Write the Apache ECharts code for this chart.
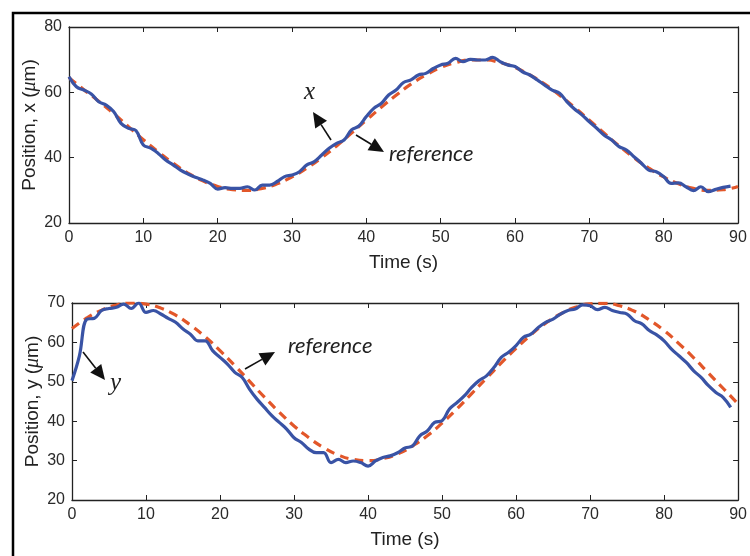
<!DOCTYPE html>
<html>
<head>
<meta charset="utf-8">
<script src="https://cdn.jsdelivr.net/npm/echarts@6/dist/echarts.min.js"></script>
<style>
  html, body { margin: 0; padding: 0; background: #fff; }
  #chart { width: 750px; height: 556px; }
</style>
</head>
<body>
<div id="chart"></div>
<script>
// measured x position, one sample per second (t = 0..89 s)
var xMeas = [
    64.8, 61.7, 60.7, 59.5, 57.1, 56.1, 54.1, 50.5, 49.0, 48.3,
    43.9, 42.9, 41.3, 39.3, 37.8, 36.2, 35.0, 34.0, 33.2, 32.1,
    30.4, 30.8, 30.6, 30.6, 31.1, 30.1, 31.6, 31.6, 32.7, 34.2,
    34.7, 35.7, 37.8, 38.8, 40.8, 42.9, 44.4, 45.4, 48.5, 49.7,
    52.6, 55.1, 56.6, 59.2, 60.7, 63.0, 63.8, 65.3, 65.8, 67.3,
    68.4, 68.9, 70.4, 69.4, 70.1, 69.9, 69.9, 70.7, 69.4, 68.4,
    67.9, 66.3, 65.3, 63.8, 62.2, 60.7, 59.7, 57.1, 54.9, 53.1,
    51.0, 49.0, 46.9, 45.4, 43.4, 42.3, 40.3, 38.3, 36.2, 35.7,
    34.2, 32.1, 32.3, 31.1, 29.9, 31.1, 29.6, 30.3, 30.9, 31.3
];
// reference x, one sample every 2 s (t = 0..90 s)
var xRef = [
    64.5, 60.8, 57.3, 53.5, 49.5, 45.5, 41.8, 38.3, 35.3, 32.9,
    31.2, 30.2, 30.0, 30.6, 32.0, 34.1, 36.8, 40.0, 43.6, 47.5,
    51.5, 55.4, 59.1, 62.5, 65.3, 67.6, 69.1, 69.9, 69.9, 69.1,
    67.6, 65.3, 62.5, 59.1, 55.4, 51.5, 47.5, 43.6, 40.0, 36.8,
    34.1, 32.0, 30.6, 30.0, 30.2, 31.2
];
// measured y position, one sample per second (t = 0..89 s)
var yMeas = [
    50.3, 56.6, 65.9, 66.1, 68.1, 68.6, 68.9, 69.7, 68.6, 70.0,
    67.6, 68.1, 67.2, 66.1, 65.1, 63.4, 62.1, 60.4, 60.4, 57.9,
    56.2, 54.5, 52.4, 51.1, 48.1, 45.6, 43.5, 41.4, 39.7, 38.0,
    35.8, 34.6, 32.9, 32.0, 32.0, 29.5, 30.3, 29.5, 29.9, 29.5,
    28.6, 29.9, 30.8, 31.2, 32.0, 33.2, 33.7, 36.3, 37.5, 39.7,
    40.1, 43.1, 44.7, 46.4, 48.6, 50.3, 51.5, 53.6, 56.2, 57.5,
    59.2, 61.3, 62.1, 63.8, 65.1, 65.9, 67.2, 68.1, 68.5, 69.5,
    69.3, 68.3, 68.9, 68.1, 67.6, 67.2, 65.5, 64.7, 63.0, 61.9,
    60.4, 58.3, 56.6, 54.9, 52.8, 51.1, 49.0, 47.3, 46.0, 43.5
];
// reference y, one sample every 2 s (t = 0..90 s)
var yRef = [
    63.5, 66.2, 68.2, 69.5, 70.0, 69.7, 68.7, 66.9, 64.4, 61.4,
    57.9, 54.1, 50.1, 46.1, 42.3, 38.8, 35.8, 33.3, 31.4, 30.3,
    30.0, 30.5, 31.7, 33.7, 36.3, 39.5, 43.1, 47.0, 50.9, 54.8,
    58.5, 61.9, 64.9, 67.2, 68.9, 69.8, 69.9, 69.3, 67.9, 65.7,
    63.0, 59.7, 56.1, 52.2, 48.3, 44.4
];
var measStep = 1;   // s
var refStep = 2;    // s

function pairs(arr, step) {
    return arr.map(function (v, i) { return [i * step, v]; });
}

var chart = echarts.init(document.getElementById('chart'));

var FONT = 'Liberation Sans';
var BLUE = '#3953a5';
var ORANGE = '#e2572a';

function xAx(grid, pos, withName) {
    return {
        type: 'value', gridIndex: grid, position: pos,
        min: 0, max: 90, interval: 10,
        name: withName ? 'Time (s)' : '',
        nameLocation: 'middle', nameGap: 30,
        nameTextStyle: { fontFamily: FONT, fontSize: 19, color: '#222' },
        axisLine: { onZero: false, lineStyle: { color: '#222', width: 1.3 } },
        axisTick: { inside: true, length: 5, lineStyle: { color: '#222' } },
        axisLabel: { show: withName, fontFamily: FONT, fontSize: 16, color: '#2a2a2a', margin: 7 },
        splitLine: { show: false }
    };
}

function yAx(grid, pos, min, max, step, name) {
    return {
        type: 'value', gridIndex: grid, position: pos,
        min: min, max: max, interval: step,
        name: name || '',
        nameLocation: 'middle', nameGap: 29, nameMoveOverlap: false,
        nameTextStyle: {
            fontFamily: FONT, fontSize: 19, color: '#222',
            rich: { m: { fontFamily: 'Liberation Serif', fontStyle: 'italic', fontSize: 20, color: '#222' } }
        },
        axisLine: { onZero: false, lineStyle: { color: '#222', width: 1.3 } },
        axisTick: { inside: true, length: 5, lineStyle: { color: '#222' } },
        axisLabel: { show: !!name, fontFamily: FONT, fontSize: 16, color: '#2a2a2a', margin: 7 },
        splitLine: { show: false }
    };
}

// arrow = shaft + filled head
function arrow(x1, y1, x2, y2) {
    var a = Math.atan2(y2 - y1, x2 - x1), L = 15, W = 7;
    var bx = x2 - L * Math.cos(a), by = y2 - L * Math.sin(a);
    return [
        { type: 'line', shape: { x1: x1, y1: y1, x2: bx, y2: by }, style: { stroke: '#111', lineWidth: 1.6 } },
        { type: 'polygon', shape: { points: [[x2, y2],
            [bx + W * Math.sin(a), by - W * Math.cos(a)],
            [bx - W * Math.sin(a), by + W * Math.cos(a)]] }, style: { fill: '#111' } }
    ];
}

var graphics = [
    { type: 'polyline', shape: { points: [[13, 556], [13, 13], [750, 13]] }, style: { stroke: '#000', lineWidth: 2.5, fill: null } },
    { type: 'text', left: 304, top: 80, style: { text: 'x', font: 'italic 25px "Liberation Serif"', fill: '#222' } },
    { type: 'text', left: 389, top: 143, style: { text: 'reference', font: 'italic 22px Lato', fill: '#222' } },
    { type: 'text', left: 288, top: 335, style: { text: 'reference', font: 'italic 22px Lato', fill: '#222' } },
    { type: 'text', left: 110, top: 371, style: { text: 'y', font: 'italic 25px "Liberation Serif"', fill: '#222' } }
]
    .concat(arrow(331, 140, 313, 112))
    .concat(arrow(356, 135, 384, 152))
    .concat(arrow(245, 369, 275, 352))
    .concat(arrow(83, 352, 105, 380));

var option = {
    animation: false,
    backgroundColor: '#fff',
    grid: [
        { left: 69, top: 27, width: 669, height: 196 },
        { left: 72, top: 303, width: 669, height: 197 }
    ],
    xAxis: [xAx(0, 'bottom', true), xAx(0, 'top', false), xAx(1, 'bottom', true), xAx(1, 'top', false)],
    yAxis: [
        yAx(0, 'left', 20, 80, 20, 'Position, x ({m|\u03bc}m)'),
        yAx(0, 'right', 20, 80, 20),
        yAx(1, 'left', 20, 70, 10, 'Position, y ({m|\u03bc}m)'),
        yAx(1, 'right', 20, 70, 10)
    ],
    series: [
        { type: 'line', xAxisIndex: 0, yAxisIndex: 0, data: pairs(xRef, refStep), smooth: true, showSymbol: false,
          lineStyle: { color: ORANGE, width: 3.2, type: [9, 6] } },
        { type: 'line', xAxisIndex: 0, yAxisIndex: 0, data: pairs(xMeas, measStep), smooth: 0.4, showSymbol: false,
          lineStyle: { color: BLUE, width: 3.2 } },
        { type: 'line', xAxisIndex: 2, yAxisIndex: 2, data: pairs(yRef, refStep), smooth: true, showSymbol: false,
          lineStyle: { color: ORANGE, width: 3.2, type: [9, 6] } },
        { type: 'line', xAxisIndex: 2, yAxisIndex: 2, data: pairs(yMeas, measStep), smooth: 0.4, showSymbol: false,
          lineStyle: { color: BLUE, width: 3.2 } }
    ],
    graphic: graphics
};

chart.setOption(option);
</script>
</body>
</html>
